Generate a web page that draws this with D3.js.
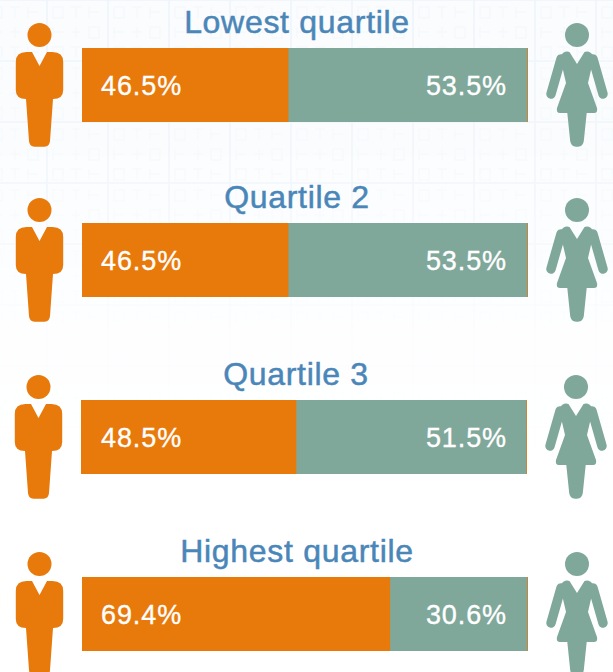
<!DOCTYPE html>
<html>
<head>
<meta charset="utf-8">
<script src="https://cdn.jsdelivr.net/npm/d3@7"></script>
<style>
  html, body { margin: 0; padding: 0; background: #fff; }
  svg { display: block; }
  text { font-family: "Liberation Sans", sans-serif; }
</style>
</head>
<body>
<div id="chart"></div>
<script>
var categories = ["Lowest quartile", "Quartile 2", "Quartile 3", "Highest quartile"];
var menValues = [46.5, 46.5, 48.5, 69.4];
var womenValues = [53.5, 53.5, 51.5, 30.6];
var rowTops = [48, 223, 400, 577];   // bar tops, the rows are not evenly spaced in the source
var rowShift = [0, 0, -1, 0];        // row 3 sits a pixel left

var width = 613, height = 672;
var barLeft = 82, barWidth = 446, barHeight = 74;
var orange = "#e8790b", teal = "#7fa89b", blue = "#4a86b8";

var svg = d3.select("#chart").append("svg")
    .attr("width", width)
    .attr("height", height);

var x = d3.scaleLinear().domain([0, 100.45]).range([0, barWidth]);

// faint grid in the page background, fades out towards the middle
var defs = svg.append("defs");
var fade = defs.append("linearGradient")
    .attr("id", "fade")
    .attr("x1", "0%").attr("y1", "0%")
    .attr("x2", "0%").attr("y2", "100%");
fade.append("stop").attr("offset", "0%").attr("stop-color", "#fff").attr("stop-opacity", 1);
fade.append("stop").attr("offset", "28%").attr("stop-color", "#fff").attr("stop-opacity", 0.8);
fade.append("stop").attr("offset", "50%").attr("stop-color", "#fff").attr("stop-opacity", 0.25);
fade.append("stop").attr("offset", "72%").attr("stop-color", "#fff").attr("stop-opacity", 0);
defs.append("mask").attr("id", "fadeMask")
    .append("rect").attr("width", width).attr("height", height).attr("fill", "url(#fade)");

// binary digit ghosts: one 61px tile of 0 and 1 shapes
var tileCols = [6, 24, 42];
var tileRows = [7, 27, 47];
var tileGlyphs = ["M0,0H10V11H0Z", "M0,0H10M5,0V11", "M0,0V11M0,5H10", "M5,0V11M0,5H10"];
var tile = defs.append("pattern")
    .attr("id", "binaryTile")
    .attr("patternUnits", "userSpaceOnUse")
    .attr("x", 47).attr("y", 0)
    .attr("width", 61).attr("height", 61);
tileRows.forEach(function(ry, r) {
    tileCols.forEach(function(cx, c) {
        tile.append("path")
            .attr("d", tileGlyphs[(r * 2 + c) % tileGlyphs.length])
            .attr("transform", `translate(${cx},${ry})`)
            .attr("fill", "none")
            .attr("stroke", "#f4f7fc")
            .attr("stroke-width", 1.1);
    });
});

var bg = svg.append("g").attr("mask", "url(#fadeMask)");
bg.append("rect").attr("width", width).attr("height", height).attr("fill", "#fafcfe");
bg.append("rect").attr("width", width).attr("height", height).attr("fill", "url(#binaryTile)");
bg.selectAll("line.v")
    .data(d3.range(47, width, 61))
    .join("line")
    .attr("class", "v")
    .attr("x1", d => d).attr("x2", d => d)
    .attr("y1", 0).attr("y2", height)
    .attr("stroke", "#eef4fb").attr("stroke-width", 1.5);
bg.selectAll("line.h")
    .data(d3.range(0, height, 61))
    .join("line")
    .attr("class", "h")
    .attr("x1", 0).attr("x2", width)
    .attr("y1", d => d).attr("y2", d => d)
    .attr("stroke", "#eef4fb").attr("stroke-width", 1.5);

// figures, drawn around the head centre
var manBody = "M-7.5,17 L0,31 L7.5,17 L13,17 Q23.7,17 23.7,27 L23.7,55 Q23.7,64 13.5,64 " +
    "L10.5,106 Q10,111.7 5,111.7 L-5,111.7 Q-10,111.7 -10.5,106 L-13.5,64 " +
    "Q-23.7,64 -23.7,55 L-23.7,27 Q-23.7,17 -13,17 Z";
var womanBody = "M-7.5,17 L0,29 L7.5,17 Q13,15 17,22 L11,48 L20,73 Q21,78 17,78 L9.7,78 " +
    "L6.8,106 Q6,111.7 1,111.7 L-1,111.7 Q-6,111.7 -6.8,106 L-9.7,78 L-17,78 Q-21,78 -20,73 " +
    "L-11,48 L-17,22 Q-13,15 -7.5,17 Z";
var womanArms = "M-16,24 L-26,59 M16,24 L26,59";

function drawMan(sel) {
    sel.append("circle").attr("r", 12).attr("fill", orange);
    sel.append("path").attr("d", manBody).attr("fill", orange);
}
function drawWoman(sel) {
    sel.append("circle").attr("r", 12).attr("fill", teal);
    sel.append("path").attr("d", womanBody).attr("fill", teal);
    sel.append("path").attr("d", womanArms)
        .attr("stroke", teal).attr("stroke-width", 9.5)
        .attr("stroke-linecap", "round").attr("fill", "none");
}

var rows = svg.selectAll("g.row")
    .data(categories)
    .join("g")
    .attr("class", "row")
    .attr("transform", (d, i) => `translate(${rowShift[i]},${rowTops[i]})`);

// orange runs the full width, a sliver of it shows at the right end of the teal
rows.append("rect")
    .attr("x", barLeft)
    .attr("width", barWidth)
    .attr("height", barHeight)
    .attr("fill", orange);

rows.append("rect")
    .attr("x", (d, i) => barLeft + x(menValues[i]))
    .attr("width", (d, i) => x(womenValues[i]) + 1.3)
    .attr("height", barHeight)
    .attr("fill", teal);

rows.append("text")
    .attr("x", 297)
    .attr("y", -15)
    .attr("text-anchor", "middle")
    .attr("font-size", 32)
    .attr("letter-spacing", 0.7)
    .attr("fill", blue)
    .attr("stroke", blue)
    .attr("stroke-width", 0.5)
    .text(d => d);

rows.append("text")
    .attr("x", (d, i) => barLeft + 19 - rowShift[i])
    .attr("y", 46.5)
    .attr("font-size", 27)
    .attr("letter-spacing", 0.9)
    .attr("fill", "#fff")
    .attr("stroke", "#fff")
    .attr("stroke-width", 0.35)
    .text((d, i) => menValues[i].toFixed(1) + "%");

rows.append("text")
    .attr("x", (d, i) => barLeft + barWidth - 21 - rowShift[i])
    .attr("y", 46.5)
    .attr("text-anchor", "end")
    .attr("font-size", 27)
    .attr("letter-spacing", 0.9)
    .attr("fill", "#fff")
    .attr("stroke", "#fff")
    .attr("stroke-width", 0.35)
    .text((d, i) => womenValues[i].toFixed(1) + "%");

rows.append("g").attr("transform", "translate(39.5,-13)").call(drawMan);
rows.append("g").attr("transform", "translate(577,-13)").call(drawWoman);
</script>
</body>
</html>
